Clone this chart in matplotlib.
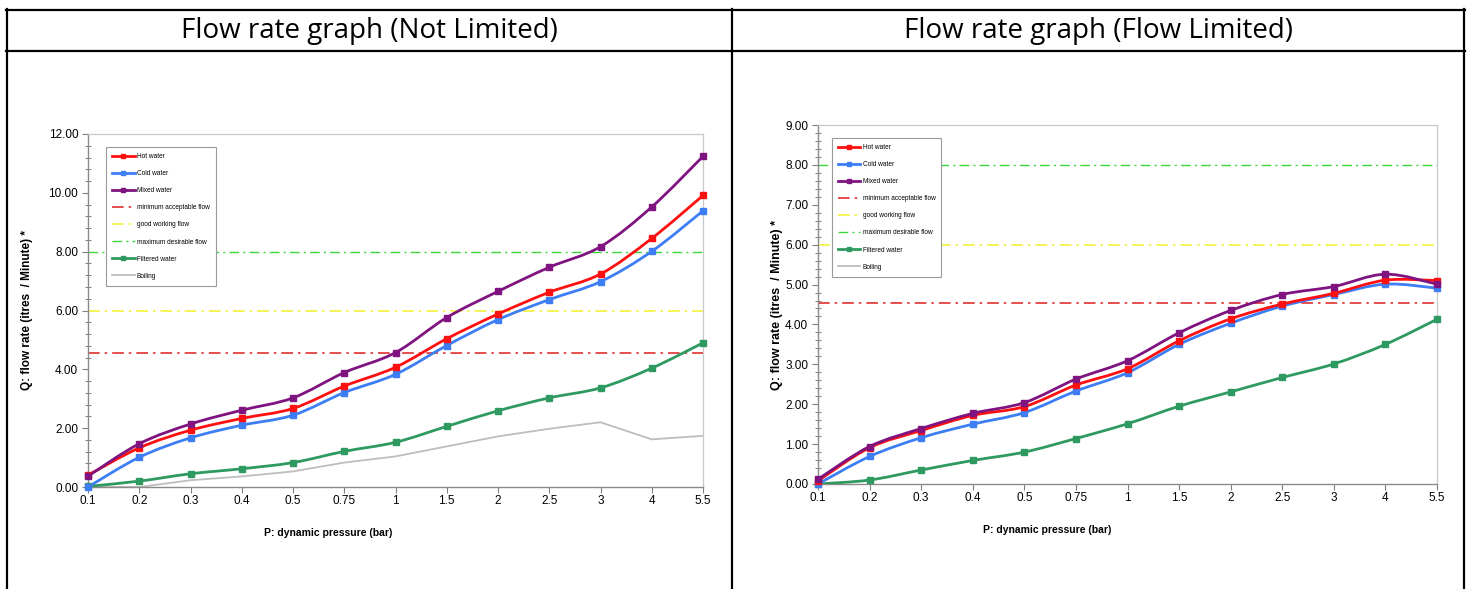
import matplotlib
matplotlib.use("Agg")
import matplotlib.pyplot as plt
from matplotlib.path import Path
from matplotlib.patches import PathPatch
from matplotlib.lines import Line2D
from matplotlib.ticker import MultipleLocator, FormatStrFormatter

# ---------------- data ----------------
pressure_labels = ["0.1", "0.2", "0.3", "0.4", "0.5", "0.75", "1", "1.5", "2", "2.5", "3", "4", "5.5"]

# Not limited
nl_hot = [0.40, 1.33, 1.93, 2.33, 2.67, 3.43, 4.07, 5.04, 5.88, 6.62, 7.24, 8.45, 9.91]
nl_cold = [0.00, 1.01, 1.67, 2.10, 2.44, 3.21, 3.83, 4.81, 5.69, 6.37, 6.98, 8.01, 9.39]
nl_mixed = [0.37, 1.47, 2.14, 2.61, 3.03, 3.89, 4.57, 5.76, 6.65, 7.47, 8.17, 9.52, 11.24]
nl_filtered = [0.02, 0.20, 0.45, 0.62, 0.83, 1.21, 1.52, 2.06, 2.59, 3.03, 3.37, 4.04, 4.90]
nl_boiling = [0.00, 0.00, 0.23, 0.36, 0.53, 0.83, 1.04, 1.38, 1.72, 1.98, 2.20, 1.62, 1.74]

# Flow limited
fl_hot = [0.08, 0.91, 1.34, 1.72, 1.94, 2.48, 2.89, 3.59, 4.14, 4.51, 4.78, 5.11, 5.10]
fl_cold = [0.00, 0.69, 1.16, 1.50, 1.79, 2.33, 2.79, 3.50, 4.03, 4.46, 4.75, 5.01, 4.91]
fl_mixed = [0.12, 0.94, 1.39, 1.77, 2.04, 2.63, 3.09, 3.79, 4.35, 4.75, 4.95, 5.26, 5.01]
fl_filtered = [0.00, 0.10, 0.35, 0.59, 0.80, 1.14, 1.51, 1.95, 2.31, 2.67, 3.01, 3.50, 4.13]

min_acceptable = 4.55
good_working = 6.0
max_desirable = 8.0

titles = ["Flow rate graph (Not Limited)", "Flow rate graph (Flow Limited)"]
xlabel = "P: dynamic pressure (bar)"
ylabel = "Q: flow rate (itres  / Minute) *"
legend_labels = ["Hot water", "Cold water", "Mixed water", "minimum acceptable flow",
                 "good working flow", "maximum desirable flow", "Filtered water", "Boiling"]

# ---------------- style ----------------
C_HOT = "#FF1010"
C_COLD = "#3D7EF5"
C_MIXED = "#7F137F"
C_FILT = "#2E9A60"
C_BOIL = "#BDBDBD"
C_MIN = "#E03030"
C_GOOD = "#F2F23A"
C_MAX = "#3CD63C"

FONT = ["Liberation Sans", "DejaVu Sans"]
plt.rcParams["font.family"] = FONT

W, H = 1471, 589
fig = plt.figure(figsize=(W / 100, H / 100), dpi=100)


def px_rect(x0, y0, x1, y1):
    return [x0 / W, 1 - y1 / H, (x1 - x0) / W, (y1 - y0) / H]


def smooth_patch(ax, xs, ys, color, lw):
    n = len(xs)
    verts = [(xs[0], ys[0])]
    codes = [Path.MOVETO]
    for i in range(n - 1):
        a = i - 1 if i > 0 else i
        d = i + 2 if i + 2 < n else i + 1
        c1 = (xs[i] + (xs[i + 1] - xs[a]) / 6.0, ys[i] + (ys[i + 1] - ys[a]) / 6.0)
        c2 = (xs[i + 1] - (xs[d] - xs[i]) / 6.0, ys[i + 1] - (ys[d] - ys[i]) / 6.0)
        verts += [c1, c2, (xs[i + 1], ys[i + 1])]
        codes += [Path.CURVE4] * 3
    patch = PathPatch(Path(verts, codes), fill=False, edgecolor=color, lw=lw,
                      capstyle="round", joinstyle="round", zorder=3)
    ax.add_patch(patch)


DASH = (0, (7, 3, 1.5, 3))


def draw_chart(ax, hot, cold, mixed, filtered, boiling, ymax, minor, leg_anchor,
               ylab_x, ylab_size, xlab_x):
    xs = list(range(len(pressure_labels)))
    ax.set_xlim(0, len(pressure_labels) - 1)
    ax.set_ylim(0, ymax)
    # reference lines
    ax.axhline(min_acceptable, color=C_MIN, lw=1.2, linestyle=DASH, zorder=2)
    ax.axhline(good_working, color=C_GOOD, lw=1.2, linestyle=DASH, zorder=2)
    ax.axhline(max_desirable, color=C_MAX, lw=1.0, linestyle=DASH, zorder=2)
    if boiling is not None:
        ax.plot(xs, boiling, color=C_BOIL, lw=1.3, zorder=2.5)
    for ys, c in [(filtered, C_FILT), (cold, C_COLD), (hot, C_HOT), (mixed, C_MIXED)]:
        smooth_patch(ax, xs, ys, c, 2.0)
        ax.plot(xs, ys, linestyle="none", marker="s", ms=4.2, color=c,
                markeredgecolor=c, zorder=4, clip_on=False)

    ax.set_xticks(xs)
    ax.set_xticklabels(pressure_labels, fontsize=8.5)
    ax.yaxis.set_major_locator(MultipleLocator(2 if ymax > 10 else 1))
    ax.yaxis.set_minor_locator(MultipleLocator(minor))
    ax.yaxis.set_major_formatter(FormatStrFormatter("%.2f"))
    ax.tick_params(axis="y", which="major", direction="out", length=4, width=0.8,
                   color="#808080", pad=3, labelsize=8.5)
    ax.tick_params(axis="y", which="minor", direction="inout", length=4, width=0.7,
                   color="#808080")
    ax.tick_params(axis="x", which="major", direction="out", length=4, width=0.8,
                   color="#808080", pad=2, labelsize=8.5)
    for s in ["left", "bottom"]:
        ax.spines[s].set_color("#8A8A8A")
        ax.spines[s].set_linewidth(1.0)
    for s in ["top", "right"]:
        ax.spines[s].set_color("#C8C8C8")
        ax.spines[s].set_linewidth(0.9)
    ax.set_xlabel(xlabel, fontsize=7.5, fontweight="bold")
    ax.xaxis.set_label_coords(xlab_x, -0.115)
    ax.set_ylabel(ylabel, fontsize=ylab_size, fontweight="bold")
    ax.yaxis.set_label_coords(ylab_x, 0.5)

    handles = [
        Line2D([], [], color=C_HOT, lw=2, marker="s", ms=3.2),
        Line2D([], [], color=C_COLD, lw=2, marker="s", ms=3.2),
        Line2D([], [], color=C_MIXED, lw=2, marker="s", ms=3.2),
        Line2D([], [], color=C_MIN, lw=1.2, linestyle=DASH),
        Line2D([], [], color=C_GOOD, lw=1.2, linestyle=DASH),
        Line2D([], [], color=C_MAX, lw=1.0, linestyle=DASH),
        Line2D([], [], color=C_FILT, lw=2, marker="s", ms=3.2),
        Line2D([], [], color=C_BOIL, lw=1.3),
    ]
    leg = ax.legend(handles, legend_labels, loc="upper left", bbox_to_anchor=leg_anchor,
                    borderaxespad=0, frameon=True, fancybox=False,
                    prop={"family": FONT, "size": 4.7},
                    labelspacing=1.55, handlelength=3.4, handletextpad=0.35,
                    borderpad=0.9, framealpha=1)
    leg.get_frame().set_edgecolor("#9A9A9A")
    leg.get_frame().set_linewidth(0.8)
    leg.set_zorder(5)


ax1 = fig.add_axes(px_rect(88, 134, 703, 487))
draw_chart(ax1, nl_hot, nl_cold, nl_mixed, nl_filtered, nl_boiling, 12, 0.4,
           (0.030, 0.963), -0.089, 8.5, 0.39)

ax2 = fig.add_axes(px_rect(818, 125, 1437, 484))
draw_chart(ax2, fl_hot, fl_cold, fl_mixed, fl_filtered, None, 9, 0.2,
           (0.023, 0.964), -0.057, 9.0, 0.37)

# table frame
def hline(y, x0, x1):
    fig.add_artist(Line2D([x0 / W, x1 / W], [1 - y / H, 1 - y / H], color="black", lw=1.6,
                          transform=fig.transFigure))


def vline(x, y0, y1):
    fig.add_artist(Line2D([x / W, x / W], [1 - y0 / H, 1 - y1 / H], color="black", lw=1.6,
                          transform=fig.transFigure))


hline(10, 6, 1465)
hline(51, 6, 1465)
vline(7, 9, 590)
vline(732, 9, 590)
vline(1464, 9, 590)

HEAD_FONT = ["Open Sans", "DejaVu Sans"]
fig.text((7 + 732) / 2 / W, 1 - 31 / H, titles[0], ha="center", va="center",
         fontsize=20, family=HEAD_FONT)
fig.text((732 + 1464) / 2 / W, 1 - 31 / H, titles[1], ha="center", va="center",
         fontsize=20, family=HEAD_FONT)

fig.savefig("out.png", dpi=100, facecolor="white")
